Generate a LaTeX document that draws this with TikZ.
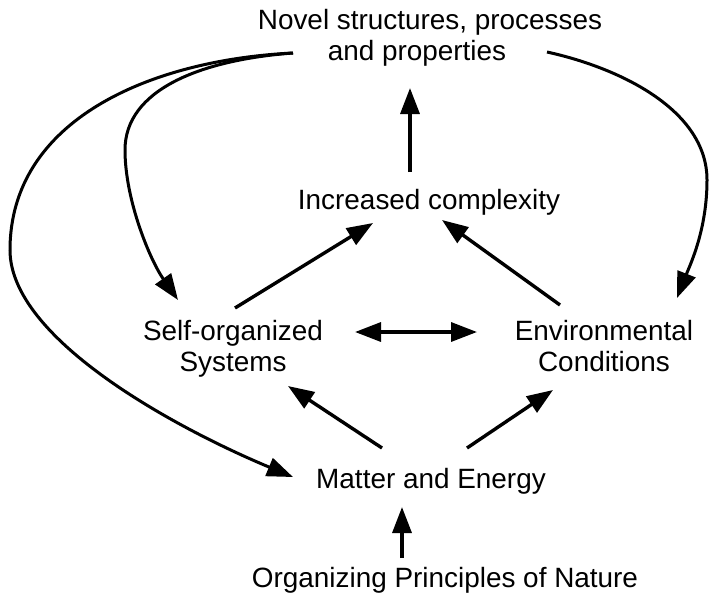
\documentclass[tikz,border=0pt]{standalone}
\usepackage{fontspec}
\setmainfont{Liberation Sans}
\usetikzlibrary{arrows.meta,calc}
\begin{document}
\begin{tikzpicture}[x=1pt,y=-1pt,
  >={Triangle[length=26pt,width=19pt]},
  lbl/.style={font=\fontsize{27.9pt}{31pt}\selectfont, inner sep=0pt, anchor=base, align=center},
  conn/.style={line width=3.4pt, ->},
  curv/.style={line width=3pt, ->}]
\fill[white] (0,0) rectangle (711,600);
\useasboundingbox (0,0) rectangle (711,600);
% nodes (base anchor = baseline of the last line)
\node[lbl] (novel)  at (430,60)  {Novel structures, processes\\and properties\hspace*{26pt}};
\node[lbl] (inc)    at (429,209) {Increased complexity};
\node[lbl] (self)   at (233,371) {Self-organized\\Systems};
\node[lbl] (env)    at (604,371) {Environmental\\Conditions};
\node[lbl] (matter) at (431,488) {Matter and Energy};
\node[lbl] (org)    at (445,587) {Organizing Principles of Nature};
% straight connectors
\draw[conn] ($(inc.base)+(-19,-37)$) -- ($(novel.base)+(-20,28)$);
\draw[conn] ($(self.base)+(2,-63)$) -- ($(inc.base)+(-56,14)$);
\draw[conn] ($(env.base)+(-44,-66)$) -- ($(inc.base)+(13,11)$);
\draw[conn,<->] ($(self.base)+(122,-39)$) -- ($(env.base)+(-127,-39)$);
\draw[conn] ($(matter.base)+(-49,-40)$) -- ($(self.base)+(55,15)$);
\draw[conn] ($(matter.base)+(36,-40)$) -- ($(env.base)+(-51,19)$);
\draw[conn] ($(org.base)+(-43,-29)$) -- ($(matter.base)+(-29,19)$);
% curved connectors
\draw[curv] ($(novel.base)+(-137,-7)$) .. controls (150,60) and (10,120) .. (10,250)
  .. controls (10,340) and (180,430) .. ($(matter.base)+(-138,-11)$);
\draw[curv] ($(novel.base)+(-137,-7)$) .. controls (200,60) and (125,90) .. (125,150)
  .. controls (125,200) and (150,260) .. ($(self.base)+(-55,-71)$);
\draw[curv] ($(novel.base)+(117,-8)$) .. controls (620,68) and (707,110) .. (707,180)
  .. controls (707,230) and (690,265) .. ($(env.base)+(73,-73)$);
\end{tikzpicture}
\end{document}
